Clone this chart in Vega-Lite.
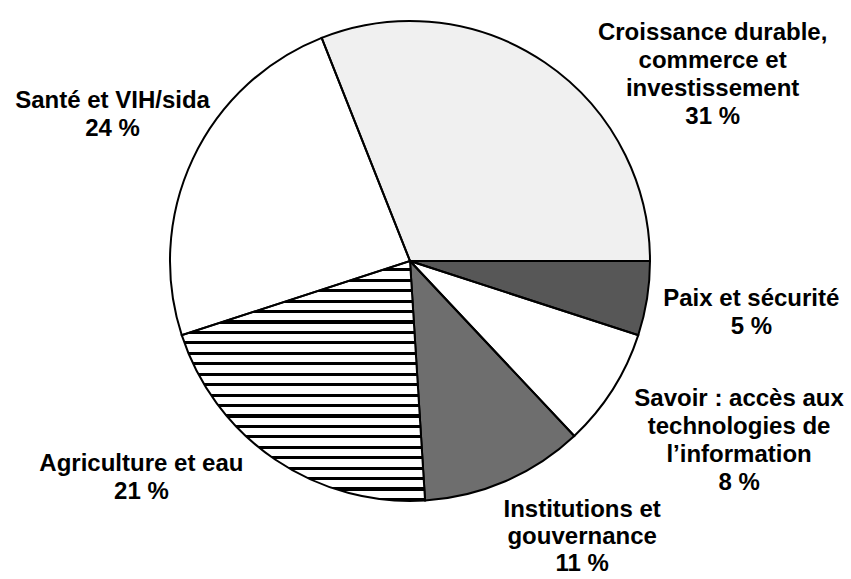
{
  "$schema": "https://vega.github.io/schema/vega-lite/v6.json",
  "autosize": {"type": "none"},
  "width": 820,
  "height": 522,
  "padding": {"left": 0, "top": 0, "right": 31, "bottom": 57},
  "background": "white",
  "config": {"view": {"stroke": null}},
  "data": {
    "values": [
      {"cat": "Paix", "order": 1, "value": 5, "label": "Paix et sécurité\n5 %"},
      {"cat": "Savoir", "order": 2, "value": 8, "label": "Savoir : accès aux\ntechnologies de\nl’information\n8 %"},
      {"cat": "Institutions", "order": 3, "value": 11, "label": "Institutions et\ngouvernance\n11 %"},
      {"cat": "Agriculture", "order": 4, "value": 21, "label": "Agriculture et eau\n21 %"},
      {"cat": "Santé", "order": 5, "value": 24, "label": "Santé et VIH/sida\n24 %"},
      {"cat": "Croissance", "order": 6, "value": 31, "label": "Croissance durable,\ncommerce et\ninvestissement\n31 %"}
    ]
  },
  "layer": [
    {
      "mark": {"type": "arc", "outerRadius": 240},
      "encoding": {
        "theta": {"field": "value", "type": "quantitative", "stack": true, "scale": {"range": [1.5708, 7.854]}},
        "order": {"field": "order", "type": "quantitative"},
        "color": {
          "field": "cat", "type": "nominal", "legend": null,
          "scale": {
            "domain": ["Paix", "Savoir", "Institutions", "Agriculture", "Santé", "Croissance"],
            "range": ["#575757", "#ffffff", "#6e6e6e", "#ffffff", "#ffffff", "#f0f0f0"]
          }
        }
      }
    },
    {
      "mark": {
        "type": "arc", "outerRadius": 240, "stroke": "black", "strokeWidth": 2,
        "fill": {
          "gradient": "linear", "x1": 0, "y1": 0, "x2": 0, "y2": 1,
          "stops": [
            {"offset": 0, "color": "white"}, {"offset": 0.0304, "color": "white"}, {"offset": 0.0304, "color": "black"}, {"offset": 0.0435, "color": "black"},
            {"offset": 0.0435, "color": "white"}, {"offset": 0.0739, "color": "white"}, {"offset": 0.0739, "color": "black"}, {"offset": 0.0870, "color": "black"},
            {"offset": 0.0870, "color": "white"}, {"offset": 0.1174, "color": "white"}, {"offset": 0.1174, "color": "black"}, {"offset": 0.1304, "color": "black"},
            {"offset": 0.1304, "color": "white"}, {"offset": 0.1609, "color": "white"}, {"offset": 0.1609, "color": "black"}, {"offset": 0.1739, "color": "black"},
            {"offset": 0.1739, "color": "white"}, {"offset": 0.2043, "color": "white"}, {"offset": 0.2043, "color": "black"}, {"offset": 0.2174, "color": "black"},
            {"offset": 0.2174, "color": "white"}, {"offset": 0.2478, "color": "white"}, {"offset": 0.2478, "color": "black"}, {"offset": 0.2609, "color": "black"},
            {"offset": 0.2609, "color": "white"}, {"offset": 0.2913, "color": "white"}, {"offset": 0.2913, "color": "black"}, {"offset": 0.3043, "color": "black"},
            {"offset": 0.3043, "color": "white"}, {"offset": 0.3348, "color": "white"}, {"offset": 0.3348, "color": "black"}, {"offset": 0.3478, "color": "black"},
            {"offset": 0.3478, "color": "white"}, {"offset": 0.3783, "color": "white"}, {"offset": 0.3783, "color": "black"}, {"offset": 0.3913, "color": "black"},
            {"offset": 0.3913, "color": "white"}, {"offset": 0.4217, "color": "white"}, {"offset": 0.4217, "color": "black"}, {"offset": 0.4348, "color": "black"},
            {"offset": 0.4348, "color": "white"}, {"offset": 0.4652, "color": "white"}, {"offset": 0.4652, "color": "black"}, {"offset": 0.4783, "color": "black"},
            {"offset": 0.4783, "color": "white"}, {"offset": 0.5087, "color": "white"}, {"offset": 0.5087, "color": "black"}, {"offset": 0.5217, "color": "black"},
            {"offset": 0.5217, "color": "white"}, {"offset": 0.5522, "color": "white"}, {"offset": 0.5522, "color": "black"}, {"offset": 0.5652, "color": "black"},
            {"offset": 0.5652, "color": "white"}, {"offset": 0.5957, "color": "white"}, {"offset": 0.5957, "color": "black"}, {"offset": 0.6087, "color": "black"},
            {"offset": 0.6087, "color": "white"}, {"offset": 0.6391, "color": "white"}, {"offset": 0.6391, "color": "black"}, {"offset": 0.6522, "color": "black"},
            {"offset": 0.6522, "color": "white"}, {"offset": 0.6826, "color": "white"}, {"offset": 0.6826, "color": "black"}, {"offset": 0.6957, "color": "black"},
            {"offset": 0.6957, "color": "white"}, {"offset": 0.7261, "color": "white"}, {"offset": 0.7261, "color": "black"}, {"offset": 0.7391, "color": "black"},
            {"offset": 0.7391, "color": "white"}, {"offset": 0.7696, "color": "white"}, {"offset": 0.7696, "color": "black"}, {"offset": 0.7826, "color": "black"},
            {"offset": 0.7826, "color": "white"}, {"offset": 0.8130, "color": "white"}, {"offset": 0.8130, "color": "black"}, {"offset": 0.8261, "color": "black"},
            {"offset": 0.8261, "color": "white"}, {"offset": 0.8565, "color": "white"}, {"offset": 0.8565, "color": "black"}, {"offset": 0.8696, "color": "black"},
            {"offset": 0.8696, "color": "white"}, {"offset": 0.9000, "color": "white"}, {"offset": 0.9000, "color": "black"}, {"offset": 0.9130, "color": "black"},
            {"offset": 0.9130, "color": "white"}, {"offset": 0.9435, "color": "white"}, {"offset": 0.9435, "color": "black"}, {"offset": 0.9565, "color": "black"},
            {"offset": 0.9565, "color": "white"}, {"offset": 0.9870, "color": "white"}, {"offset": 0.9870, "color": "black"}, {"offset": 1, "color": "black"}
          ]
        }
      },
      "encoding": {
        "theta": {"field": "value", "type": "quantitative", "stack": true},
        "order": {"field": "order", "type": "quantitative"},
        "detail": {"field": "cat", "type": "nominal"},
        "fillOpacity": {"condition": {"test": "datum.cat === 'Agriculture'", "value": 1}, "value": 0}
      }
    },
    {
      "mark": {"type": "text", "radius": 300, "dx": 134, "dy": 20, "font": "Liberation Sans", "fontWeight": "bold", "fontSize": 24, "lineHeight": 28, "lineBreak": "\n", "align": "center", "baseline": "middle", "color": "black"},
      "encoding": {
        "theta": {"field": "value", "type": "quantitative", "stack": true},
        "order": {"field": "order", "type": "quantitative"},
        "detail": {"field": "cat", "type": "nominal"},
        "text": {"condition": {"test": "datum.cat === 'Croissance'", "field": "label"}, "value": ""}
      }
    },
    {
      "mark": {"type": "text", "radius": 300, "dx": -26, "dy": -32, "font": "Liberation Sans", "fontWeight": "bold", "fontSize": 24, "lineHeight": 28, "lineBreak": "\n", "align": "center", "baseline": "middle", "color": "black"},
      "encoding": {
        "theta": {"field": "value", "type": "quantitative", "stack": true},
        "order": {"field": "order", "type": "quantitative"},
        "detail": {"field": "cat", "type": "nominal"},
        "text": {"condition": {"test": "datum.cat === 'Santé'", "field": "label"}, "value": ""}
      }
    },
    {
      "mark": {"type": "text", "radius": 300, "dx": 45, "dy": -9, "font": "Liberation Sans", "fontWeight": "bold", "fontSize": 24, "lineHeight": 28, "lineBreak": "\n", "align": "center", "baseline": "middle", "color": "black"},
      "encoding": {
        "theta": {"field": "value", "type": "quantitative", "stack": true},
        "order": {"field": "order", "type": "quantitative"},
        "detail": {"field": "cat", "type": "nominal"},
        "text": {"condition": {"test": "datum.cat === 'Paix'", "field": "label"}, "value": ""}
      }
    },
    {
      "mark": {"type": "text", "radius": 340, "dx": 42, "dy": -44, "font": "Liberation Sans", "fontWeight": "bold", "fontSize": 24, "lineHeight": 28, "lineBreak": "\n", "align": "center", "baseline": "middle", "color": "black"},
      "encoding": {
        "theta": {"field": "value", "type": "quantitative", "stack": true},
        "order": {"field": "order", "type": "quantitative"},
        "detail": {"field": "cat", "type": "nominal"},
        "text": {"condition": {"test": "datum.cat === 'Savoir'", "field": "label"}, "value": ""}
      }
    },
    {
      "mark": {"type": "text", "radius": 300, "dx": 53, "dy": -26, "font": "Liberation Sans", "fontWeight": "bold", "fontSize": 24, "lineHeight": 27, "lineBreak": "\n", "align": "center", "baseline": "middle", "color": "black"},
      "encoding": {
        "theta": {"field": "value", "type": "quantitative", "stack": true},
        "order": {"field": "order", "type": "quantitative"},
        "detail": {"field": "cat", "type": "nominal"},
        "text": {"condition": {"test": "datum.cat === 'Institutions'", "field": "label"}, "value": ""}
      }
    },
    {
      "mark": {"type": "text", "radius": 300, "dx": -100, "dy": -45, "font": "Liberation Sans", "fontWeight": "bold", "fontSize": 24, "lineHeight": 28, "lineBreak": "\n", "align": "center", "baseline": "middle", "color": "black"},
      "encoding": {
        "theta": {"field": "value", "type": "quantitative", "stack": true},
        "order": {"field": "order", "type": "quantitative"},
        "detail": {"field": "cat", "type": "nominal"},
        "text": {"condition": {"test": "datum.cat === 'Agriculture'", "field": "label"}, "value": ""}
      }
    }
  ]
}
